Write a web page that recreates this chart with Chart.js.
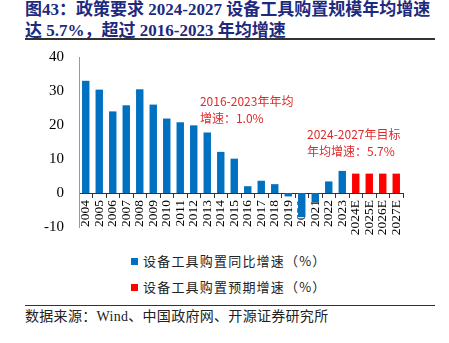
<!DOCTYPE html>
<html>
<head>
<meta charset="utf-8">
<script src="https://cdn.jsdelivr.net/npm/chart.js@4/dist/chart.umd.min.js"></script>
<style>
  body { margin: 0; background: #fff; width: 449px; height: 343px; position: relative; overflow: hidden; }
  .title { position: absolute; left: 25px; top: 0; width: 420px; font-family: "Liberation Serif", "Noto Sans CJK SC", serif; font-weight: bold; font-size: 17px; line-height: 20.5px; color: #1c2a80; white-space: nowrap; }
  .rule { position: absolute; left: 25px; width: 410px; background: #333; }
  #wrap { position: absolute; left: 0; top: 33px; width: 449px; height: 218px; }
  .legend { position: absolute; left: 131px; font-family: "Noto Sans CJK SC", sans-serif; font-size: 13px; letter-spacing: 1.2px; color: #222; white-space: nowrap; line-height: 16px; }
  .legend i { display: inline-block; width: 7px; height: 7px; margin-right: 5px; vertical-align: 1px; }
  .source { position: absolute; left: 25px; top: 308px; font-family: "Liberation Serif", "Noto Sans CJK SC", serif; font-size: 14px; letter-spacing: 0.3px; color: #222; white-space: nowrap; line-height: 18px; }
</style>
</head>
<body>
<div class="title">图43：政策要求 2024-2027 设备工具购置规模年均增速<br>达 5.7%，超过 2016-2023 年均增速</div>
<div class="rule" style="top:38px;height:1.5px"></div>
<div id="wrap"><canvas id="chart"></canvas></div>
<div class="legend" style="top:253px"><i style="background:#0070c0"></i>设备工具购置同比增速（%）</div>
<div class="legend" style="top:279px"><i style="background:#ff0000"></i>设备工具购置预期增速（%）</div>
<div class="rule" style="top:305px;height:1px"></div>
<div class="source">数据来源：Wind、中国政府网、开源证券研究所</div>
<script>
const years = ['2004', '2005', '2006', '2007', '2008', '2009', '2010', '2011', '2012', '2013', '2014', '2015',
    '2016', '2017', '2018', '2019', '2020', '2021', '2022', '2023', '2024E', '2025E', '2026E', '2027E'];
const actualGrowth = [33.0, 30.4, 24.0, 25.8, 30.5, 26.0, 21.9, 20.8, 19.9, 17.8, 12.1, 10.1,
    2.0, 3.6, 2.6, -1.0, -7.1, -2.7, 3.4, 6.5, null, null, null, null];
const expectedGrowth = [null, null, null, null, null, null, null, null, null, null, null, null,
    null, null, null, null, null, null, null, null, 5.7, 5.7, 5.7, 5.7];
const yTicks = [-10, 0, 10, 20, 30, 40];

// red notes, placed by category index / value
const notes = [
    { text: '2016-2023年年均', x: 8.46, y: 27.0 },
    { text: '增速：1.0%', x: 8.46, y: 21.9 },
    { text: '2024-2027年目标', x: 16.39, y: 17.1 },
    { text: '年均增速：5.7%', x: 16.39, y: 12.1 }
];

const notePlugin = {
    id: 'notes',
    afterDatasetsDraw(chart) {
        const ctx = chart.ctx;
        const xs = chart.scales.x, ys = chart.scales.y;
        ctx.save();
        ctx.fillStyle = '#e02a2a';
        ctx.font = '12px "Noto Sans CJK SC", sans-serif';
        ctx.textBaseline = 'middle';
        ctx.textAlign = 'left';
        notes.forEach(n => {
            ctx.fillText(n.text, xs.getPixelForValue(n.x), ys.getPixelForValue(n.y));
        });
        ctx.restore();
    }
};

new Chart(document.getElementById('chart'), {
    type: 'bar',
    data: {
        labels: years,
        datasets: [{
            label: '设备工具购置同比增速（%）',
            data: actualGrowth,
            backgroundColor: '#0070c0',
            barPercentage: 0.55,
            categoryPercentage: 1
        }, {
            label: '设备工具购置预期增速（%）',
            data: expectedGrowth,
            backgroundColor: '#ff0000',
            barPercentage: 0.55,
            categoryPercentage: 1
        }]
    },
    options: {
        responsive: true,
        maintainAspectRatio: false,
        animation: false,
        datasets: { bar: { grouped: false } },
        layout: { padding: { left: 0, right: 46, top: 11, bottom: 0 } },
        plugins: {
            legend: { display: false },
            tooltip: { enabled: false }
        },
        scales: {
            x: {
                position: { y: 0 },
                grid: { display: true, drawOnChartArea: false, drawTicks: true, tickLength: 4, offset: true, color: '#333' },
                border: { display: true, color: '#333', width: 1 },
                ticks: {
                    autoSkip: false,
                    minRotation: 90,
                    maxRotation: 90,
                    padding: 3,
                    color: '#000',
                    font: { family: '"Liberation Serif", serif', size: 13.5 }
                }
            },
            y: {
                min: -10,
                max: 40,
                afterBuildTicks: s => { s.ticks = yTicks.map(v => ({ value: v })); },
                afterFit: s => { s.width = 79; },
                grid: { display: false, drawTicks: false },
                border: { display: true, color: '#999', width: 1 },
                ticks: {
                    padding: 15,
                    color: '#000',
                    font: { family: '"Liberation Serif", serif', size: 15 }
                }
            }
        }
    },
    plugins: [notePlugin]
});
</script>
</body>
</html>
